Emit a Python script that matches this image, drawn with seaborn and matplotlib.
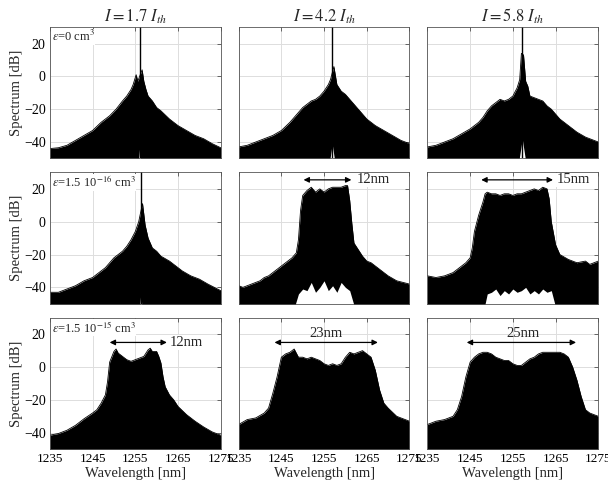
import numpy as np
import matplotlib
matplotlib.use("Agg")
import matplotlib.pyplot as plt
import seaborn as sns

# column / row labels
currents = ["1.7", "4.2", "5.8"]
eps_labels = [r"$\varepsilon$=0 cm$^{3}$",
              r"$\varepsilon$=1.5 10$^{-16}$ cm$^{3}$",
              r"$\varepsilon$=1.5 10$^{-15}$ cm$^{3}$"]

# spectra envelopes (wavelength nm, dB)
wl_r1c1 = [1235, 1237, 1239, 1241, 1243, 1245, 1247, 1249, 1250.5, 1252, 1253, 1254, 1254.5, 1255.2, 1255.6,
           1256.3, 1256.6, 1257, 1257.5, 1258, 1259, 1260, 1261, 1263, 1265, 1267, 1269, 1271, 1273, 1275]
db_r1c1 = [-44, -43.5, -42, -39, -36, -33, -28, -24, -20, -15, -12, -8, -5, 1, -3,
           2, 4, -3, -8, -12, -15, -19, -21, -26, -30, -33, -36, -38, -41, -43.5]

wl_r1c2 = [1235, 1237, 1239, 1241, 1243, 1245, 1247, 1248, 1249, 1250, 1251, 1252, 1253, 1254, 1255,
           1256, 1256.5, 1257.3, 1258, 1259, 1260, 1261, 1262, 1263, 1265, 1267, 1269, 1271, 1273, 1275]
db_r1c2 = [-43, -42, -40, -38, -36, -33, -28, -25, -22, -19, -17, -15, -14, -12, -9,
           -5, -2, 6, -5, -9, -11, -14, -17, -20, -26, -30, -33, -36, -39, -41]

wl_r1c3 = [1235, 1237, 1239, 1241, 1243, 1245, 1247, 1248, 1249, 1250, 1251, 1252, 1253, 1254, 1255, 1256,
           1256.6, 1257.0, 1257.5, 1258, 1258.5, 1259, 1260, 1261, 1262, 1263, 1264, 1265, 1266, 1268,
           1270, 1272, 1275]
db_r1c3 = [-43, -42, -40, -38, -35, -32, -28, -25, -21, -18, -16, -14, -15, -14, -12, -7,
           -2, 14, 13, -3, -6, -12, -13, -14, -15, -18, -20, -23, -26, -30,
           -34, -37, -40]

wl_r2c1 = [1235, 1237, 1239, 1241, 1243, 1245, 1246, 1248, 1250, 1252, 1253, 1254, 1255, 1255.8,
           1256.2, 1256.7, 1257.3, 1258, 1259, 1260, 1261, 1263, 1265, 1266, 1268, 1270, 1272, 1275]
db_r2c1 = [-43, -43, -41, -39, -36, -34, -32, -28, -22, -18, -15, -11, -6, 0,
           5, 11, -2, -10, -16, -18, -21, -24, -28, -30, -33, -35, -38, -42]

wl_r2c2 = [1235, 1236, 1238, 1240, 1241, 1242, 1244, 1246, 1247.5, 1248.5, 1249, 1249.5, 1250, 1251,
           1252, 1253, 1254, 1255, 1256, 1257, 1258, 1259, 1260, 1260.5, 1261, 1261.5, 1262, 1263,
           1264, 1265, 1266, 1267, 1268, 1270, 1272, 1275]
db_r2c2 = [-39, -40, -38, -36, -34, -33, -29, -25, -22, -19, -11, 7, 16, 19,
           21, 18, 20, 18, 20, 21, 21, 21, 22, 22, 13, -1, -13, -17,
           -21, -24, -25, -27, -29, -33, -36, -38]

wl_r2c3 = [1235, 1237, 1239, 1241, 1243, 1244, 1245, 1245.5, 1246, 1247, 1248, 1248.5, 1249, 1250,
           1251, 1252, 1253, 1254, 1255, 1256, 1257, 1258, 1259, 1260, 1261, 1262, 1263, 1263.5,
           1264, 1265, 1266, 1268, 1270, 1272, 1273, 1275]
db_r2c3 = [-33, -34, -33, -31, -27, -25, -22, -16, -6, 4, 12, 17, 18, 17,
           17, 16, 17, 17, 16, 17, 17, 18, 19, 20, 19, 21, 20, 14,
           0, -14, -20, -23, -25, -24, -26, -24]

wl_r3c1 = [1235, 1237, 1239, 1241, 1243, 1245, 1246, 1247, 1248, 1248.5, 1249, 1250, 1250.5, 1251,
           1252, 1253, 1254, 1255, 1256, 1257, 1258, 1258.5, 1259, 1260, 1260.5, 1261, 1261.5,
           1262, 1263, 1264, 1265, 1267, 1269, 1271, 1273, 1275]
db_r3c1 = [-41.5, -40.5, -38.5, -35.5, -31.5, -28, -26, -22, -17, -9, 3, 9.5, 11, 8.5,
           6.5, 4.5, 3.5, 4.5, 5.5, 6.5, 10.5, 11.5, 9.5, 9.5, 6.5, 2.5, -6,
           -12, -17, -20, -24, -29, -33, -36.5, -39.5, -41.5]

wl_r3c2 = [1235, 1237, 1239, 1241, 1242, 1243, 1244, 1245, 1246, 1247, 1248, 1249, 1250, 1251, 1252,
           1253, 1254, 1255, 1256, 1257, 1258, 1259, 1260, 1261, 1262, 1263, 1264, 1265, 1266, 1267,
           1268, 1269, 1270, 1272, 1275]
db_r3c2 = [-35, -32, -31, -28, -25, -16, -6, 6, 8, 9, 11, 6, 6, 5, 6,
           5, 4, 2, 1, 2, 1, 2, 6, 9, 8, 9, 10, 8, 6, -2,
           -14, -22, -25, -30, -33]

wl_r3c3 = [1235, 1237, 1239, 1241, 1242, 1243, 1244, 1245, 1246, 1247, 1248, 1249, 1250, 1251, 1252,
           1253, 1254, 1255, 1256, 1257, 1258, 1259, 1260, 1261, 1262, 1263, 1264, 1265, 1266, 1267,
           1268, 1269, 1270, 1271, 1272, 1273, 1275]
db_r3c3 = [-35, -33, -32, -30, -26, -18, -6, 3, 6, 8, 9, 9, 8, 6, 5,
           4, 4, 2, 1, 1, 3, 5, 6, 8, 9, 9, 9, 9, 9, 8,
           6, 0, -8, -18, -26, -28, -30]

# lasing line (wavelength, dB) for the single-mode panels
peak_wl = {(0, 0): 1256.0, (0, 1): 1256.9, (0, 2): 1257.2, (1, 0): 1256.4}
peak_db = 40

# white dips at the bottom of the spectra (minimum level)
dip_wl_r1c1 = [1255.8, 1256.0, 1256.2]
dip_db_r1c1 = [-50, -44, -50]
dip_wl_r1c2 = [1256.4, 1256.9, 1257.4]
dip_db_r1c2 = [-50, -41, -50]
dip_wl_r1c3 = [1256.5, 1257.2, 1257.9]
dip_db_r1c3 = [-50, -38, -50]
dip_wl_r2c1 = [1256.1, 1256.3, 1256.5]
dip_db_r2c1 = [-50, -43, -50]
dip_wl_r2c2 = [1248.3, 1249, 1250, 1251, 1252, 1253, 1254, 1255, 1256, 1257, 1258, 1259, 1260, 1261, 1261.9]
dip_db_r2c2 = [-50, -44, -41, -42, -37, -43, -40, -36, -42, -39, -43, -37, -40, -42, -50]
dip_wl_r2c3 = [1248.5, 1249, 1250, 1251, 1252, 1253, 1254, 1255, 1256, 1257, 1258, 1259, 1260, 1261,
               1262, 1263, 1264, 1264.8]
dip_db_r2c3 = [-50, -44, -43, -41, -45, -42, -44, -41, -43, -42, -40, -44, -42, -44,
               -41, -43, -42, -50]

# width arrows: (panel) -> start, end, level, label, label x
arrows = {
    (1, 1): (1250.2, 1261.4, 25.5, "12nm", 1262.6, "left"),
    (1, 2): (1247.6, 1264.4, 25.5, "15nm", 1265.2, "left"),
    (2, 0): (1249.0, 1262.4, 15.0, "12nm", 1263.0, "left"),
    (2, 1): (1243.4, 1267.6, 15.0, "23nm", 1255.5, "center"),
    (2, 2): (1244.2, 1269.8, 15.0, "25nm", 1257.3, "center"),
}

spectra = {
    (0, 0): (wl_r1c1, db_r1c1), (0, 1): (wl_r1c2, db_r1c2), (0, 2): (wl_r1c3, db_r1c3),
    (1, 0): (wl_r2c1, db_r2c1), (1, 1): (wl_r2c2, db_r2c2), (1, 2): (wl_r2c3, db_r2c3),
    (2, 0): (wl_r3c1, db_r3c1), (2, 1): (wl_r3c2, db_r3c2), (2, 2): (wl_r3c3, db_r3c3),
}
dips = {
    (0, 0): (dip_wl_r1c1, dip_db_r1c1), (0, 1): (dip_wl_r1c2, dip_db_r1c2),
    (0, 2): (dip_wl_r1c3, dip_db_r1c3), (1, 0): (dip_wl_r2c1, dip_db_r2c1),
    (1, 1): (dip_wl_r2c2, dip_db_r2c2), (1, 2): (dip_wl_r2c3, dip_db_r2c3),
}

sns.set_style("whitegrid")
plt.rcParams['font.family'] = ['Liberation Serif', 'DejaVu Serif']
plt.rcParams['mathtext.fontset'] = 'stix'

fig, axes = plt.subplots(3, 3, figsize=(6.08, 4.93), dpi=100)
fig.subplots_adjust(left=0.082, right=0.984, top=0.945, bottom=0.089, wspace=0.105, hspace=0.107)

for r in range(3):
    for c in range(3):
        ax = axes[r, c]
        wl, db = spectra[(r, c)]
        ax.fill_between(wl, -60, db, color="black", lw=0, zorder=2)
        sns.lineplot(x=wl, y=db, ax=ax, color="black", lw=0.6, zorder=2)
        if (r, c) in dips:
            dw, dd = dips[(r, c)]
            ax.fill_between(dw, -60, dd, color="white", lw=0, zorder=3)
        if (r, c) in peak_wl:
            ax.plot([peak_wl[(r, c)], peak_wl[(r, c)]], [-50, peak_db], color="black", lw=1.0, zorder=4)
        if (r, c) in arrows:
            x0, x1, y, lab, tx, ha = arrows[(r, c)]
            ax.annotate("", xy=(x1, y), xytext=(x0, y),
                        arrowprops=dict(arrowstyle="<|-|>", color="black", lw=0.9,
                                        mutation_scale=8, shrinkA=0, shrinkB=0), zorder=5)
            if ha == "left":
                ax.text(tx, y, lab, ha="left", va="center", fontsize=10.5, zorder=5,
                        bbox=dict(facecolor="white", edgecolor="none", pad=0.5))
            else:
                ax.text(tx, y + 1.5, lab, ha="center", va="bottom", fontsize=10.5, zorder=5)
        if c == 0:
            ax.text(0.01, 0.985, eps_labels[r], transform=ax.transAxes, ha="left", va="top",
                    fontsize=9, zorder=6, bbox=dict(facecolor="white", edgecolor="none", pad=0.3))

        ax.set_xlim(1235, 1275)
        ax.set_ylim(-50, 30)
        ax.set_xticks([1235, 1245, 1255, 1265, 1275])
        ax.set_yticks([-40, -20, 0, 20])
        ax.set_axisbelow(True)
        ax.grid(True, color="#dddddd", lw=0.7)
        ax.tick_params(direction="in", length=3, width=0.5, top=True, right=True,
                       labelsize=10, colors="#333333", labelcolor="black", pad=3)
        ax.tick_params(axis="x", labelsize=9.5)
        for s in ax.spines.values():
            s.set_color("#555555")
            s.set_linewidth(0.6)
            s.set_zorder(7)
        if c == 0:
            ax.set_ylabel("Spectrum [dB]", fontsize=10.5, labelpad=1)
        else:
            ax.set_yticklabels([])
            ax.set_ylabel("")
        if r == 2:
            ax.set_xlabel("Wavelength [nm]", fontsize=10.5, labelpad=1)
        else:
            ax.set_xticklabels([])
            ax.set_xlabel("")
        if r == 0:
            ax.set_title(r"$I = %s\ I_{th}$" % currents[c], fontsize=12, pad=4)

fig.savefig("out.png", dpi=100)
